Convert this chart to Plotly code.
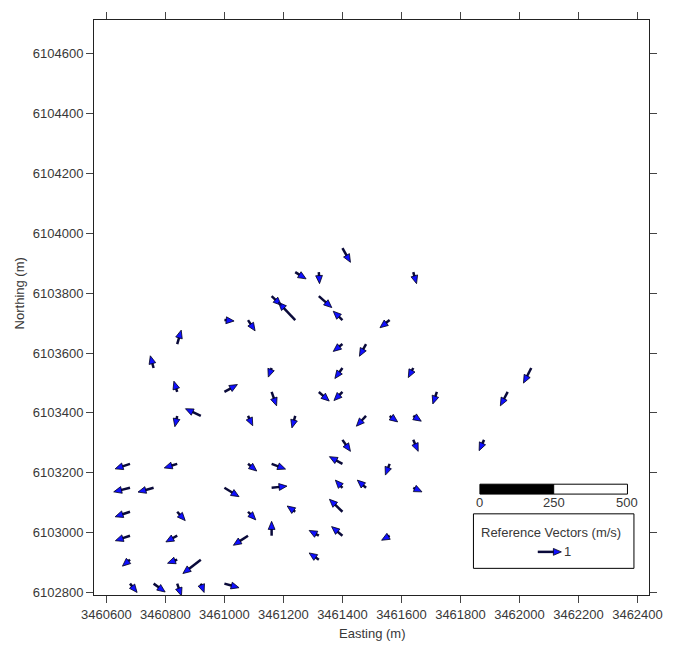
import math
import plotly.graph_objects as go

# ---------------- data ----------------
# vector origins (m) and components (m/s)
east = [3460680, 3460760, 3460840, 3460920, 3461000,
        3460680, 3460840, 3460920, 3461320,
        3460680, 3460840, 3461080, 3461160, 3461320, 3461400, 3461560,
        3460680, 3460840, 3461080, 3461240, 3461400,
        3460680, 3460760, 3461000, 3461160, 3461400, 3461480, 3461640,
        3460680, 3460840, 3461080, 3461160, 3461400, 3461560,
        3461400, 3461640, 3461880,
        3460840, 3460920, 3461080, 3461240, 3461480, 3461560, 3461640,
        3460840, 3461000, 3461160, 3461320, 3461400, 3461720, 3461960,
        3460760, 3461160, 3461400, 3461640, 3462040,
        3460840, 3461400, 3461480,
        3461000, 3461080, 3461240, 3461400, 3461560,
        3461160, 3461320,
        3461240, 3461320, 3461640,
        3461400]
north = [6102830, 6102830, 6102830, 6102830, 6102830,
         6102910, 6102910, 6102910, 6102910,
         6102990, 6102990, 6102990, 6102990, 6102990, 6102990, 6102990,
         6103070, 6103070, 6103070, 6103070, 6103070,
         6103150, 6103150, 6103150, 6103150, 6103150, 6103150, 6103150,
         6103230, 6103230, 6103230, 6103230, 6103230, 6103230,
         6103310, 6103310, 6103310,
         6103390, 6103390, 6103390, 6103390, 6103390, 6103390, 6103390,
         6103470, 6103470, 6103470, 6103470, 6103470, 6103470, 6103470,
         6103550, 6103550, 6103550, 6103550, 6103550,
         6103630, 6103630, 6103630,
         6103710, 6103710, 6103710, 6103710, 6103710,
         6103790, 6103790,
         6103870, 6103870, 6103870,
         6103950]
u = [0.30, 0.49, 0.18, 0.14, 0.62,
     -0.32, -0.41, -0.76, -0.41,
     -0.62, -0.48, -0.62, 0.00, -0.41, -0.46, -0.34,
     -0.63, 0.34, 0.33, -0.34, -0.55,
     -0.69, -0.66, 0.62, 0.65, -0.30, -0.37, 0.37,
     -0.63, -0.55, 0.37, 0.59, -0.55, -0.18,
     0.34, 0.21, -0.21,
     -0.10, -0.65, 0.20, -0.14, -0.41, 0.34, 0.34,
     -0.14, 0.55, 0.21, 0.44, -0.36, -0.17, -0.31,
     -0.14, -0.14, -0.32, -0.21, -0.33,
     0.17, -0.39, -0.28,
     0.41, 0.30, -0.71, -0.39, -0.41,
     0.41, 0.55,
     0.46, 0.03, 0.14,
     0.34]
v = [-0.37, -0.35, -0.51, -0.37, -0.17,
     -0.27, -0.15, -0.58, 0.28,
     -0.21, -0.26, -0.40, 0.60, 0.22, 0.38, -0.19,
     -0.21, -0.37, -0.34, 0.24, 0.52,
     -0.17, -0.18, -0.37, 0.07, 0.32, 0.32, -0.17,
     -0.21, -0.17, -0.30, -0.22, 0.30, -0.47,
     -0.48, -0.48, -0.45,
     -0.45, 0.30, -0.41, -0.50, -0.43, -0.25, -0.22,
     0.45, 0.31, -0.58, -0.38, -0.36, -0.50, -0.58,
     0.51, -0.38, -0.44, -0.40, -0.63,
     0.58, -0.31, -0.51,
     -0.04, -0.45, 0.74, 0.37, -0.32,
     -0.38, -0.48,
     -0.28, -0.48, -0.48,
     -0.59]

x_ticks = [3460600, 3460800, 3461000, 3461200, 3461400,
           3461600, 3461800, 3462000, 3462200, 3462400]
y_ticks = [6102800, 6103000, 6103200, 6103400, 6103600,
           6103800, 6104000, 6104200, 6104400, 6104600]
scale_bar_labels = ["0", "250", "500"]
ref_speed = [1]

# ---------------- styling / geometry constants ----------------
SCALE = 80.0       # map metres per 1 m/s
HEAD_LEN = 27.0    # arrow-head length (map metres)
HEAD_HALF = 11.5   # arrow-head half width (map metres)
X_RANGE = [3460558, 3462439]
Y_RANGE = [6102792, 6104712]
FONT = "Liberation Sans, Arial, sans-serif"
FS = 13
TXT = "#383838"
HEAD_FILL = "#1010ff"
SHAFT = "#0a0a3a"


def arrow_paths(xs, ys, us, vs):
    sx, sy, hx, hy = [], [], [], []
    for x0, y0, uu, vv in zip(xs, ys, us, vs):
        dx, dy = uu * SCALE, vv * SCALE
        L = math.hypot(dx, dy)
        if L == 0:
            continue
        ex, ey = dx / L, dy / L
        px, py = -ey, ex
        tx, ty = x0 + dx, y0 + dy
        bx, by = tx - HEAD_LEN * ex, ty - HEAD_LEN * ey
        sx += [x0, bx + 3 * ex, None]
        sy += [y0, by + 3 * ey, None]
        hx += [tx, bx + HEAD_HALF * px, bx - HEAD_HALF * px, tx, None]
        hy += [ty, by + HEAD_HALF * py, by - HEAD_HALF * py, ty, None]
    return sx, sy, hx, hy


fig = go.Figure()


def add_arrows(xs, ys, us, vs):
    sx, sy, hx, hy = arrow_paths(xs, ys, us, vs)
    fig.add_trace(go.Scatter(x=sx, y=sy, mode="lines",
                             line=dict(color=SHAFT, width=2.5),
                             hoverinfo="skip", showlegend=False,
                             cliponaxis=False))
    fig.add_trace(go.Scatter(x=hx, y=hy, mode="lines", fill="toself",
                             fillcolor=HEAD_FILL,
                             line=dict(color="#000018", width=0.8),
                             hoverinfo="skip", showlegend=False,
                             cliponaxis=False))


add_arrows(east, north, u, v)

# ---------------- scale bar ----------------
bar_x0, bar_len = 3461866, 500
bar_y0, bar_y1 = 6103129, 6103162
fig.add_shape(type="rect", xref="x", yref="y", layer="below",
              x0=bar_x0, x1=bar_x0 + bar_len / 2, y0=bar_y0, y1=bar_y1,
              fillcolor="black", line=dict(color="black", width=1))
fig.add_shape(type="rect", xref="x", yref="y", layer="below",
              x0=bar_x0 + bar_len / 2, x1=bar_x0 + bar_len, y0=bar_y0, y1=bar_y1,
              fillcolor="white", line=dict(color="black", width=1))
for k, lab in enumerate(scale_bar_labels):
    fig.add_annotation(x=bar_x0 + k * bar_len / 2, y=6103101, xref="x", yref="y",
                       text=lab, showarrow=False,
                       font=dict(family=FONT, size=FS, color=TXT))

# ---------------- reference-vector box ----------------
fig.add_shape(type="rect", xref="x", yref="y", layer="below",
              x0=3461844, x1=3462388, y0=6102881, y1=6103063,
              fillcolor="white", line=dict(color="black", width=1))
fig.add_annotation(x=3462106, y=6103000, xref="x", yref="y",
                   text="Reference Vectors (m/s)", showarrow=False,
                   font=dict(family=FONT, size=FS, color=TXT))
add_arrows([3462062], [6102936], ref_speed, [0])
fig.add_annotation(x=3462143, y=6102936, xref="x", yref="y",
                   text=str(ref_speed[0]), showarrow=False, xanchor="left",
                   font=dict(family=FONT, size=FS, color=TXT))

# ---------------- axes ----------------
axis_common = dict(showline=True, linecolor="#222222", linewidth=1,
                   mirror="ticks", ticks="outside", ticklen=7,
                   tickcolor="#444444", tickwidth=1, showgrid=False,
                   zeroline=False, tickformat="d",
                   tickfont=dict(family=FONT, size=FS, color=TXT))
fig.update_xaxes(range=X_RANGE, tickvals=x_ticks, **axis_common)
fig.update_yaxes(range=Y_RANGE, tickvals=y_ticks, **axis_common)

fig.add_annotation(xref="paper", yref="paper", x=0.5, y=0, yshift=-38.5,
                   xanchor="center", yanchor="middle",
                   text="Easting (m)", showarrow=False,
                   font=dict(family=FONT, size=FS, color=TXT))
fig.add_annotation(xref="paper", yref="paper", x=0, y=0.5245, xshift=-75,
                   xanchor="center", yanchor="middle",
                   text="Northing (m)", showarrow=False, textangle=-90,
                   font=dict(family=FONT, size=FS, color=TXT))

fig.update_layout(width=675, height=646,
                  margin=dict(l=94, r=14, t=13, b=50.5),
                  plot_bgcolor="white", paper_bgcolor="white",
                  showlegend=False)

fig.write_html("out.html")
